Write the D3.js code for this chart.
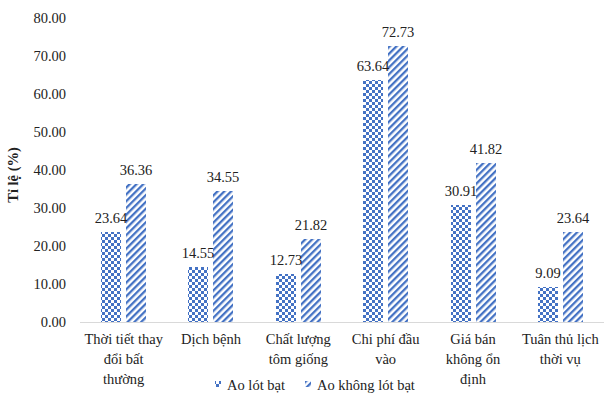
<!DOCTYPE html>
<html><head><meta charset="utf-8">
<script src="https://cdn.jsdelivr.net/npm/d3@7"></script>
<style>body{margin:0;background:#fff}svg{display:block}</style>
</head><body>
<script>
const categories = ["Thời tiết thay đổi bất thường","Dịch bệnh","Chất lượng tôm giống","Chi phí đầu vào","Giá bán không ổn định","Tuân thủ lịch thời vụ"];
const categoryLines = [["Thời tiết thay","đổi bất","thường"],["Dịch bệnh"],["Chất lượng","tôm giống"],["Chi phí đầu","vào"],["Giá bán","không ổn","định"],["Tuân thủ lịch","thời vụ"]];
const seriesNames = ["Ao lót bạt","Ao không lót bạt"];
const aoLotBat = [23.64,14.55,12.73,63.64,30.91,9.09];
const aoKhongLotBat = [36.36,34.55,21.82,72.73,41.82,23.64];
const yTicks = [0,10,20,30,40,50,60,70,80];

const W=604,H=397, blue="#4472C4";
const margin={left:80,right:0,top:18,bottom:75};
const svg=d3.select("body").append("svg").attr("width",W).attr("height",H);
const defs=svg.append("defs");
const pc=defs.append("pattern").attr("id","checker").attr("patternUnits","userSpaceOnUse").attr("width",6).attr("height",6);
pc.append("rect").attr("width",6).attr("height",6).attr("fill","#fff");
pc.append("rect").attr("width",3).attr("height",3).attr("fill",blue);
pc.append("rect").attr("x",3).attr("y",3).attr("width",3).attr("height",3).attr("fill",blue);
const ph=defs.append("pattern").attr("id","hatch").attr("patternUnits","userSpaceOnUse").attr("width",4.8).attr("height",10).attr("patternTransform","rotate(45)");
ph.append("rect").attr("width",4.8).attr("height",10).attr("fill","#fff");
ph.append("rect").attr("width",2.3).attr("height",10).attr("fill",blue);

const x0=d3.scaleBand().domain(categories).range([margin.left,W-margin.right]);
const x1=d3.scaleBand().domain(seriesNames).range([x0.bandwidth()/2-22.5,x0.bandwidth()/2+22.5]).paddingInner(0.2);
const y=d3.scaleLinear().domain([0,80]).range([H-margin.bottom,margin.top]);

const font="'Liberation Serif','Times New Roman',serif";
svg.append("g").selectAll("text").data(yTicks).join("text")
 .attr("x",66).attr("y",d=>y(d)).attr("dy","0.35em").attr("text-anchor","end")
 .attr("font-family",font).attr("font-size",14.5).attr("fill","#222").text(d=>d.toFixed(2));
svg.append("line").attr("x1",margin.left).attr("x2",W-margin.right).attr("y1",y(0)+0.5).attr("y2",y(0)+0.5).attr("stroke","#d9d9d9").attr("stroke-width",1);

const data=categories.map((c,i)=>({c,vals:[{s:seriesNames[0],v:aoLotBat[i]},{s:seriesNames[1],v:aoKhongLotBat[i]}]}));
const fills={[seriesNames[0]]:"url(#checker)",[seriesNames[1]]:"url(#hatch)"};
const g=svg.append("g").selectAll("g").data(data).join("g");
const bx=(d,c)=>Math.round(x0(c)+x1(d.s));
g.selectAll("rect").data(d=>d.vals.map(v=>({...v,c:d.c}))).join("rect")
 .attr("x",d=>bx(d,d.c)).attr("width",Math.round(x1.bandwidth())).attr("y",d=>Math.round(y(d.v))).attr("height",d=>y(0)-Math.round(y(d.v))).attr("fill",d=>fills[d.s]);
g.selectAll("text").data(d=>d.vals.map(v=>({...v,c:d.c}))).join("text")
 .attr("x",d=>bx(d,d.c)+x1.bandwidth()/2).attr("y",d=>y(d.v)-9).attr("text-anchor","middle")
 .attr("font-family",font).attr("font-size",14.5).attr("fill","#222").text(d=>d.v.toFixed(2));

const cl=svg.append("g").selectAll("text").data(categories).join("text")
 .attr("x",d=>x0(d)+x0.bandwidth()/2).attr("y",344).attr("text-anchor","middle")
 .attr("font-family",font).attr("font-size",14.5).attr("fill","#222");
cl.selectAll("tspan").data((d,i)=>categoryLines[i]).join("tspan")
 .attr("x",function(){return d3.select(this.parentNode).attr("x");}).attr("dy",(d,i)=>i?20:0).text(d=>d);

svg.append("text").attr("transform","translate(18,175) rotate(-90)").attr("text-anchor","middle")
 .attr("font-family",font).attr("font-size",14.5).attr("font-weight","bold").attr("fill","#222").text("Tỉ lệ (%)");

const leg=[{s:seriesNames[0],mx:215,tx:227},{s:seriesNames[1],mx:305,tx:317}];
const lg=svg.append("g").selectAll("g").data(leg).join("g");
lg.append("rect").attr("x",d=>d.mx).attr("y",381).attr("width",6).attr("height",6).attr("fill",d=>fills[d.s]);
lg.append("text").attr("x",d=>d.tx).attr("y",390).attr("font-family",font).attr("font-size",14.5).attr("fill","#222").text(d=>d.s);
</script>
</body></html>
